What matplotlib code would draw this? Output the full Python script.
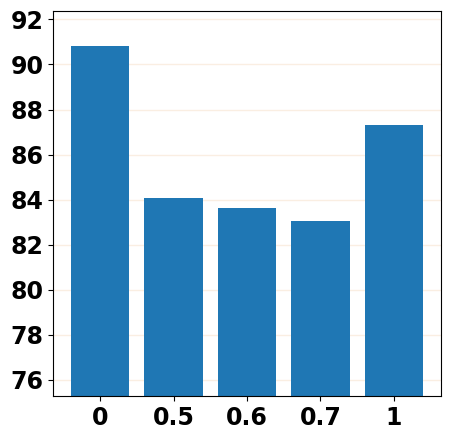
import matplotlib
matplotlib.use("Agg")
import matplotlib.pyplot as plt

categories = ["0", "0.5", "0.6", "0.7", "1"]
values = [90.81, 84.06, 83.61, 83.04, 87.30]
yticks = [76, 78, 80, 82, 84, 86, 88, 90, 92]

fig = plt.figure(figsize=(4.5, 4.4), dpi=100)
ax = fig.add_axes([53/450, 1 - 396/440, (441-53)/450, (396-11)/440])
ax.set_axisbelow(True)
ax.grid(axis="y", color="#f8e4d0", alpha=0.6, linewidth=1)
ax.bar(categories, values, color="#1f77b4", width=0.8)
ax.set_ylim(75.29, 92.37)
ax.set_yticks(yticks)
for lab in ax.get_xticklabels() + ax.get_yticklabels():
    lab.set_fontsize(17)
    lab.set_fontweight("bold")
fig.savefig("out.png", dpi=100)
